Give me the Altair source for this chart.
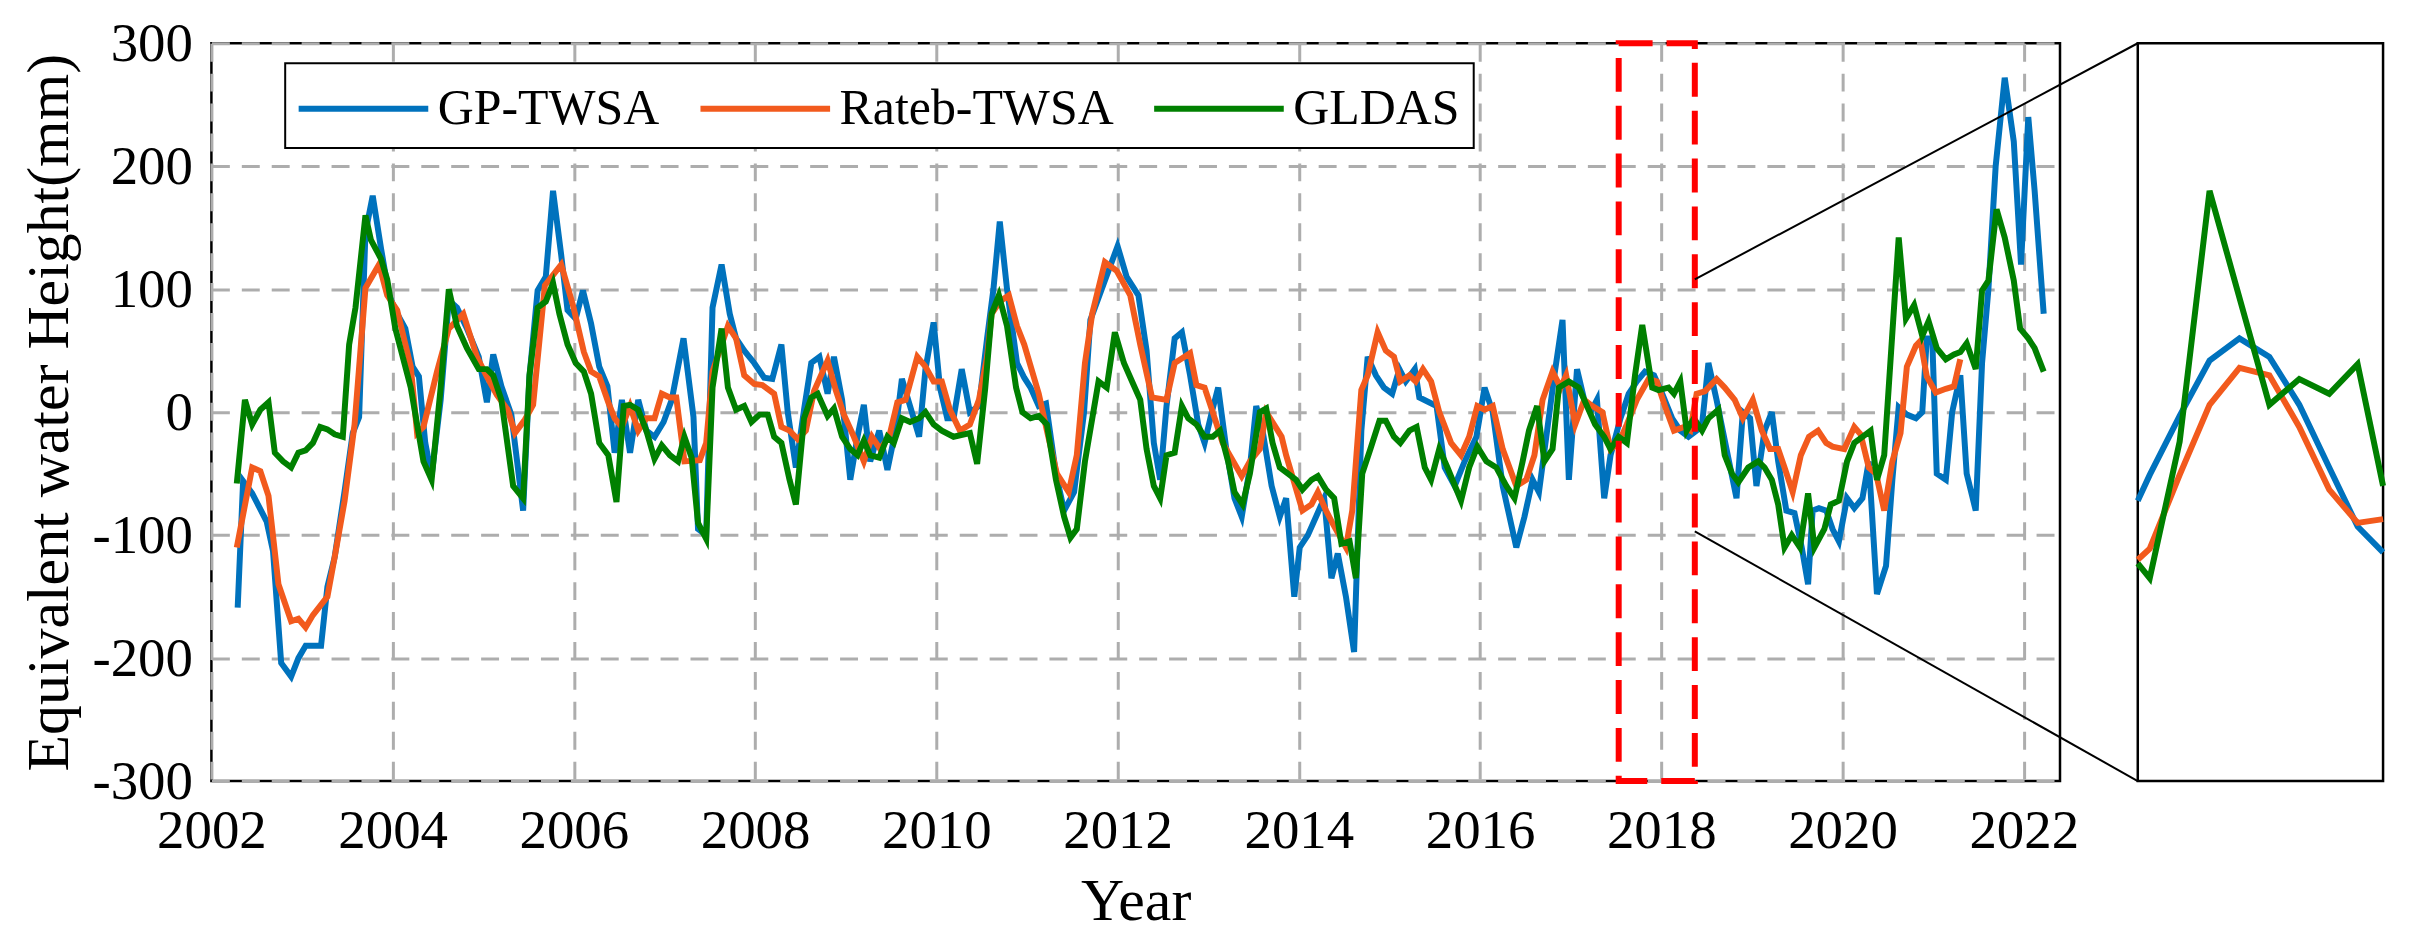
import altair as alt
import pandas as pd

SERIES = ["GP-TWSA", "Rateb-TWSA", "GLDAS"]
COLORS = ["#0072BD", "#F25A1D", "#008000"]
FONT = "Liberation Serif"

# axis limits of the main panel
X_MIN, X_MAX = 2002, 2022.4
Y_MIN, Y_MAX = -300, 300
X_TICKS = list(range(2002, 2023, 2))
Y_TICKS = list(range(-300, 301, 100))

# GP-TWSA
GP_T = [2002.29, 2002.35, 2002.45, 2002.61, 2002.68, 2002.77, 2002.88, 2002.96, 2003.04, 2003.21,
        2003.28, 2003.36, 2003.47, 2003.56, 2003.63, 2003.70, 2003.78, 2003.87, 2003.96, 2004.05,
        2004.14, 2004.22, 2004.29, 2004.36, 2004.43, 2004.53, 2004.62, 2004.71, 2004.82, 2004.95,
        2005.04, 2005.11, 2005.20, 2005.31, 2005.44, 2005.51, 2005.60, 2005.69, 2005.77, 2005.86,
        2005.93, 2006.02, 2006.10, 2006.19, 2006.28, 2006.37, 2006.45, 2006.53, 2006.62, 2006.71,
        2006.80, 2006.89, 2006.99, 2007.08, 2007.21, 2007.32, 2007.37, 2007.46, 2007.53, 2007.63,
        2007.72, 2007.79, 2007.88, 2007.99, 2008.10, 2008.19, 2008.29, 2008.36, 2008.45, 2008.54,
        2008.62, 2008.71, 2008.80, 2008.87, 2008.96, 2009.05, 2009.13, 2009.20, 2009.27, 2009.37,
        2009.46, 2009.55, 2009.62, 2009.71, 2009.81, 2009.88, 2009.97, 2010.04, 2010.12, 2010.19,
        2010.28, 2010.37, 2010.47, 2010.56, 2010.63, 2010.70, 2010.78, 2010.89, 2010.97, 2011.04,
        2011.13, 2011.21, 2011.32, 2011.41, 2011.52, 2011.63, 2011.70, 2011.85, 2012.00, 2012.10,
        2012.23, 2012.32, 2012.40, 2012.47, 2012.54, 2012.63, 2012.71, 2012.80, 2012.89, 2012.96,
        2013.04, 2013.11, 2013.20, 2013.29, 2013.37, 2013.46, 2013.53, 2013.60, 2013.70, 2013.79,
        2013.86, 2013.95, 2014.01, 2014.10, 2014.19, 2014.28, 2014.36, 2014.43, 2014.52, 2014.61,
        2014.69, 2014.76, 2014.85, 2014.94, 2015.03, 2015.11, 2015.18, 2015.28, 2015.33, 2015.52,
        2015.61, 2015.72, 2015.83, 2015.96, 2016.05, 2016.14, 2016.25, 2016.40, 2016.49, 2016.58,
        2016.65, 2016.74, 2016.82, 2016.91, 2016.98, 2017.07, 2017.15, 2017.22, 2017.29, 2017.37,
        2017.44, 2017.55, 2017.64, 2017.73, 2017.82, 2017.92, 2018.01, 2018.12, 2018.21, 2018.30,
        2018.39, 2018.45, 2018.52, 2018.61, 2018.72, 2018.83, 2018.90, 2018.98, 2019.05, 2019.14,
        2019.22, 2019.29, 2019.38, 2019.47, 2019.55, 2019.62, 2019.67, 2019.74, 2019.82, 2019.89,
        2019.96, 2020.05, 2020.13, 2020.22, 2020.29, 2020.38, 2020.48, 2020.55, 2020.62, 2020.71,
        2020.81, 2020.88, 2020.93, 2020.99, 2021.04, 2021.14, 2021.21, 2021.30, 2021.37, 2021.47,
        2021.54, 2021.61, 2021.69, 2021.79, 2021.89, 2021.97, 2022.05, 2022.12, 2022.22]
GP_V = [-159, -56, -66, -89, -113, -204, -215, -200, -190, -190,
        -142, -118, -64, -17, -4, 146, 176, 134, 95, 80,
        68, 37, 29, -25, -52, 10, 91, 85, 68, 45,
        8, 47, 21, -2, -80, 29, 99, 110, 180, 128,
        83, 76, 99, 72, 37, 21, -33, 10, -33, 10,
        -15, -20, -8, 10, 60, -4, -95, -100, 85, 120,
        80, 60, 50, 40, 28, 27, 55, 0, -45, 2,
        40, 45, 15, 45, 10, -55, -20, 6, -40, -15,
        -47, -15, 27, 5, -20, 35, 73, 20, -5, -5,
        35, 0, 5, 60, 100, 155, 100, 40, 28, 20,
        5, 7, -50, -80, -65, 0, 75, 105, 135, 110,
        95, 50, -25, -55, 5, 60, 65, 30, -10, -25,
        0, 20, -30, -70, -85, -45, 5, -15, -60, -85,
        -70, -150, -110, -100, -85, -70, -135, -115, -150, -195,
        -15, 45, 30, 20, 15, 35, 25, 35, 12, 5,
        -45, -60, -40, -20, 20, 0, -60, -110, -85, -55,
        -65, -15, 30, 75, -55, 35, 10, 0, 10, -70,
        -35, -5, 15, 25, 33, 30, 15, -5, -15, -20,
        -15, -10, 40, 10, -30, -70, 0, -5, -60, -15,
        0, -40, -80, -82, -110, -140, -80, -78, -80, -95,
        -105, -70, -78, -70, -40, -148, -125, -55, 4, -2,
        -5, 0, 60, 60, -50, -55, 0, 30, -50, -80,
        40, 100, 200, 272, 220, 120, 240, 180, 80]

# Rateb-TWSA
RATEB_T = [2002.28, 2002.45, 2002.54, 2002.63, 2002.74, 2002.88, 2002.96, 2003.04, 2003.12, 2003.28,
           2003.36, 2003.47, 2003.58, 2003.70, 2003.85, 2003.94, 2004.05, 2004.20, 2004.27, 2004.34,
           2004.49, 2004.62, 2004.78, 2004.93, 2005.04, 2005.15, 2005.27, 2005.35, 2005.46, 2005.55,
           2005.68, 2005.86, 2005.99, 2006.11, 2006.19, 2006.28, 2006.38, 2006.45, 2006.53, 2006.62,
           2006.71, 2006.80, 2006.89, 2006.97, 2007.06, 2007.13, 2007.22, 2007.39, 2007.46, 2007.53,
           2007.70, 2007.79, 2007.88, 2007.99, 2008.08, 2008.21, 2008.29, 2008.38, 2008.47, 2008.56,
           2008.65, 2008.80, 2008.89, 2008.98, 2009.09, 2009.20, 2009.29, 2009.38, 2009.48, 2009.57,
           2009.66, 2009.79, 2009.88, 2009.97, 2010.06, 2010.15, 2010.26, 2010.37, 2010.47, 2010.56,
           2010.61, 2010.70, 2010.80, 2010.89, 2010.97, 2011.13, 2011.22, 2011.33, 2011.46, 2011.55,
           2011.64, 2011.72, 2011.86, 2011.99, 2012.14, 2012.25, 2012.38, 2012.54, 2012.63, 2012.80,
           2012.87, 2012.96, 2013.05, 2013.16, 2013.37, 2013.46, 2013.57, 2013.64, 2013.81, 2013.86,
           2014.04, 2014.14, 2014.21, 2014.30, 2014.37, 2014.52, 2014.59, 2014.69, 2014.76, 2014.87,
           2014.96, 2015.05, 2015.12, 2015.22, 2015.29, 2015.37, 2015.46, 2015.55, 2015.68, 2015.79,
           2015.88, 2015.97, 2016.05, 2016.14, 2016.25, 2016.40, 2016.51, 2016.60, 2016.69, 2016.80,
           2016.89, 2016.95, 2017.05, 2017.15, 2017.24, 2017.35, 2017.44, 2017.53, 2017.62, 2017.73,
           2017.86, 2017.95, 2018.04, 2018.14, 2018.25, 2018.32, 2018.39, 2018.48, 2018.61, 2018.70,
           2018.81, 2018.90, 2019.01, 2019.11, 2019.20, 2019.29, 2019.36, 2019.45, 2019.54, 2019.63,
           2019.73, 2019.82, 2019.89, 2020.02, 2020.13, 2020.20, 2020.29, 2020.37, 2020.46, 2020.55,
           2020.64, 2020.71, 2020.81, 2020.86, 2020.93, 2021.03, 2021.14, 2021.23, 2021.30]
RATEB_V = [-110, -45, -48, -68, -140, -170, -168, -175, -165, -150,
           -118, -72, -10, 101, 120, 95, 83, 37, -17, -12,
           33, 68, 80, 45, 29, 14, 2, -17, -6, 6,
           103, 120, 87, 49, 33, 29, 8, -5, -12, 5,
           -15, -5, -5, 15, 12, 12, -40, -39, -25, 33,
           70, 60, 30, 23, 22, 15, -12, -15, -22, -15,
           17, 42, 18, -2, -20, -40, -20, -30, -20, 8,
           10, 45, 37, 25, 25, 2, -15, -10, 10, 45,
           80, 90, 95, 70, 55, 15, -15, -50, -65, -35,
           40, 80, 122, 115, 95, 55, 12, 10, 40, 48,
           22, 20, 0, -25, -52, -40, -30, 0, -20, -35,
           -80, -75, -65, -80, -90, -110, -80, 18, 30, 65,
           50, 45, 25, 30, 25, 35, 25, 0, -25, -35,
           -20, 5, 2, 5, -30, -60, -55, -35, 10, 33,
           20, 30, -10, 10, 5, 0, -30, -25, -10, 10,
           27, 25, 5, -15, -12, -15, 15, 17, 27, 20,
           10, -5, 10, -15, -30, -30, -45, -65, -35, -20,
           -15, -25, -28, -30, -12, -18, -45, -50, -80, -40,
           -17, 37, 54, 58, 29, 16, 19, 21, 43]

# GLDAS
GLDAS_T = [2002.28, 2002.37, 2002.45, 2002.54, 2002.63, 2002.70, 2002.79, 2002.88, 2002.96, 2003.04,
           2003.12, 2003.20, 2003.28, 2003.36, 2003.45, 2003.52, 2003.59, 2003.70, 2003.76, 2003.87,
           2003.94, 2004.03, 2004.20, 2004.34, 2004.43, 2004.53, 2004.62, 2004.71, 2004.82, 2004.95,
           2005.04, 2005.11, 2005.20, 2005.33, 2005.44, 2005.51, 2005.60, 2005.69, 2005.77, 2005.84,
           2005.93, 2006.02, 2006.11, 2006.19, 2006.28, 2006.38, 2006.47, 2006.55, 2006.62, 2006.71,
           2006.80, 2006.89, 2006.97, 2007.06, 2007.15, 2007.22, 2007.30, 2007.37, 2007.46, 2007.53,
           2007.63, 2007.70, 2007.79, 2007.88, 2007.96, 2008.05, 2008.14, 2008.21, 2008.29, 2008.38,
           2008.45, 2008.54, 2008.62, 2008.69, 2008.80, 2008.87, 2008.96, 2009.05, 2009.13, 2009.20,
           2009.27, 2009.37, 2009.46, 2009.53, 2009.62, 2009.71, 2009.81, 2009.88, 2009.97, 2010.06,
           2010.19, 2010.37, 2010.45, 2010.54, 2010.61, 2010.69, 2010.78, 2010.88, 2010.95, 2011.04,
           2011.13, 2011.22, 2011.32, 2011.41, 2011.48, 2011.55, 2011.64, 2011.79, 2011.88, 2011.97,
           2012.07, 2012.16, 2012.25, 2012.32, 2012.40, 2012.47, 2012.54, 2012.63, 2012.71, 2012.78,
           2012.87, 2012.96, 2013.05, 2013.13, 2013.22, 2013.29, 2013.38, 2013.46, 2013.57, 2013.64,
           2013.71, 2013.79, 2013.88, 2013.97, 2014.04, 2014.14, 2014.21, 2014.30, 2014.39, 2014.47,
           2014.56, 2014.63, 2014.70, 2014.79, 2014.89, 2014.96, 2015.05, 2015.12, 2015.22, 2015.30,
           2015.39, 2015.46, 2015.55, 2015.64, 2015.79, 2015.88, 2015.97, 2016.07, 2016.18, 2016.29,
           2016.38, 2016.47, 2016.54, 2016.63, 2016.71, 2016.80, 2016.87, 2016.98, 2017.09, 2017.18,
           2017.27, 2017.37, 2017.44, 2017.53, 2017.62, 2017.71, 2017.79, 2017.90, 2017.97, 2018.08,
           2018.14, 2018.21, 2018.28, 2018.36, 2018.45, 2018.52, 2018.63, 2018.70, 2018.78, 2018.85,
           2018.96, 2019.07, 2019.14, 2019.22, 2019.29, 2019.36, 2019.44, 2019.53, 2019.62, 2019.69,
           2019.80, 2019.87, 2019.96, 2020.05, 2020.13, 2020.22, 2020.31, 2020.38, 2020.46, 2020.62,
           2020.70, 2020.79, 2020.88, 2020.95, 2021.04, 2021.14, 2021.23, 2021.30, 2021.37, 2021.47,
           2021.54, 2021.61, 2021.70, 2021.79, 2021.89, 2021.96, 2022.05, 2022.12, 2022.22]
GLDAS_V = [-58, 10, -10, 2, 8, -33, -40, -45, -33, -31,
           -25, -12, -14, -18, -20, 55, 85, 160, 140, 125,
           108, 68, 20, -40, -55, 20, 100, 70, 52, 35,
           35, 30, 10, -60, -70, 30, 85, 90, 105, 80,
           55, 40, 33, 15, -25, -35, -73, 5, 6, 2,
           -15, -38, -27, -35, -40, -20, -37, -90, -103, 20,
           68, 20, 2, 5, -8, -2, -2, -20, -25, -55,
           -75, -5, 12, 15, -3, 3, -20, -30, -35, -23,
           -35, -37, -20, -25, -5, -8, -5, 0, -10, -15,
           -20, -17, -42, 20, 80, 95, 70, 20, 0, -5,
           -3, -10, -55, -85, -102, -95, -40, 25, 20, 65,
           40, 25, 10, -30, -60, -70, -35, -33, 5, -5,
           -10, -20, -20, -15, -40, -65, -75, -50, 0, 3,
           -25, -45, -50, -55, -63, -55, -52, -63, -70, -107,
           -105, -135, -50, -30, -7, -7, -20, -25, -15, -12,
           -45, -55, -30, -45, -72, -45, -28, -40, -45, -60,
           -70, -40, -15, 5, -40, -30, 20, 25, 20, 5,
           -10, -20, -30, -20, -25, 30, 71, 20, 18, 20,
           15, 25, -15, -5, -15, -5, 2, -35, -50, -57,
           -45, -40, -45, -55, -75, -110, -100, -110, -66, -110,
           -95, -75, -72, -40, -25, -20, -15, -55, -35, 142,
           76, 87, 62, 74, 52, 43, 47, 49, 56, 35,
           99, 107, 165, 142, 107, 68, 60, 52, 33]

# highlighted window and the ends of the two connector lines (main-panel units)
ZOOM_START, ZOOM_END = 2017.53, 2018.37
CONNECT_TOP, CONNECT_BOTTOM = 108, -97

# inset panel: months into the window, own vertical range
INSET_X = [0, 8.2]
INSET_Y = [-80, 120]
INSET_GP_T = [0, 0.4, 1.4, 2.4, 3.4, 4.4, 5.4, 6.4, 7.35, 8.2]
INSET_GP_V = [-4, 3, 19, 34, 40, 35, 22, 5, -11, -18]
INSET_RATEB_T = [0, 0.4, 1.4, 2.4, 3.4, 4.4, 5.4, 6.4, 7.35, 8.2]
INSET_RATEB_V = [-20, -17, 3, 22, 32, 30, 16, -1, -10, -9]
INSET_GLDAS_T = [0, 0.4, 1.4, 2.4, 4.4, 5.4, 6.4, 7.35, 8.2]
INSET_GLDAS_V = [-21, -25, 12, 80, 22, 29, 25, 33, 0]

MAIN_W, INSET_W, H, GAP = 1854, 246, 740, 78


def long_frame(parts):
    rows = []
    for name, ts, vs in parts:
        rows += [{"series": name, "t": t, "v": v} for t, v in zip(ts, vs)]
    return pd.DataFrame(rows)


main_df = long_frame([(SERIES[0], GP_T, GP_V), (SERIES[1], RATEB_T, RATEB_V),
                      (SERIES[2], GLDAS_T, GLDAS_V)])
inset_df = long_frame([(SERIES[0], INSET_GP_T, INSET_GP_V),
                       (SERIES[1], INSET_RATEB_T, INSET_RATEB_V),
                       (SERIES[2], INSET_GLDAS_T, INSET_GLDAS_V)])

# inset's left edge, expressed on the main x scale
inset_edge = X_MAX + GAP * (X_MAX - X_MIN) / MAIN_W
box_df = pd.DataFrame([{"t": ZOOM_START, "t2": ZOOM_END, "v": Y_MAX, "v2": Y_MIN}])
link_df = pd.DataFrame([
    {"t": ZOOM_END, "v": CONNECT_TOP, "t2": inset_edge, "v2": Y_MAX},
    {"t": ZOOM_END, "v": CONNECT_BOTTOM, "t2": inset_edge, "v2": Y_MIN},
])

x_main = alt.Scale(domain=[X_MIN, X_MAX], nice=False, zero=False)
y_main = alt.Scale(domain=[Y_MIN, Y_MAX], nice=False)
# plain hyphen for negative labels, as in the original figure
plain_label = "'' + datum.value"
x_axis = alt.Axis(title="Year", values=X_TICKS, labelExpr=plain_label, labelFlush=False,
                  labelBaseline="alphabetic", labelPadding=67,
                  titleY=139, titleBaseline="alphabetic")
y_axis = alt.Axis(title="Equivalent water Height(mm)", values=Y_TICKS, labelExpr=plain_label,
                  labelFlush=False, labelPadding=19, labelBaseline="middle",
                  titleX=-144, titleBaseline="alphabetic")
x_enc = alt.X("t:Q", scale=x_main, axis=x_axis)
y_enc = alt.Y("v:Q", scale=y_main, axis=y_axis)
color_scale = alt.Scale(domain=SERIES, range=COLORS)

lines = alt.Chart(main_df).mark_line(strokeWidth=6).encode(
    x=x_enc,
    y=y_enc,
    color=alt.Color("series:N", scale=color_scale, legend=alt.Legend(
        title=None, orient="none", legendX=74, legendY=20, direction="horizontal",
        columns=3, columnPadding=28, padding=14, strokeColor="black", fillColor="white",
        symbolType="M-2.2807,0H2.2807", symbolSize=3249, symbolStrokeWidth=6,
        symbolOffset=33, labelOffset=43, labelFontSize=50, labelFont=FONT,
        labelColor="black", labelLimit=0)),
)

box = alt.Chart(box_df).mark_rect(filled=False, stroke="#FF0000", strokeWidth=6,
                                  strokeDash=[34, 14]).encode(
    x=x_enc, x2="t2:Q", y=y_enc, y2="v2:Q")

links = alt.Chart(link_df).mark_rule(color="black", strokeWidth=2).encode(
    x=x_enc, x2="t2:Q", y=y_enc, y2="v2:Q")

main = alt.layer(lines, box, links).properties(width=MAIN_W, height=H)

inset = alt.Chart(inset_df).mark_line(strokeWidth=6).encode(
    x=alt.X("t:Q", scale=alt.Scale(domain=INSET_X, nice=False, zero=False), axis=None),
    y=alt.Y("v:Q", scale=alt.Scale(domain=INSET_Y, nice=False, zero=False), axis=None),
    color=alt.Color("series:N", scale=color_scale, legend=None),
).properties(width=INSET_W, height=H)

chart = (
    alt.hconcat(main, inset, spacing=GAP, bounds="flush")
    .resolve_scale(color="independent")
    .properties(padding={"left": 10, "top": 5, "right": 5, "bottom": 0})
    .configure(font=FONT)
    .configure_view(stroke="black", strokeWidth=2.5)
    .configure_axis(
        grid=True, gridColor="#ADADAD", gridWidth=3, gridDash=[18, 12], gridOpacity=1,
        domain=False, ticks=False,
        labelFont=FONT, labelFontSize=55, labelColor="black",
        titleFont=FONT, titleFontSize=60, titleFontWeight="normal", titleColor="black",
    )
    .configure_legend(strokeWidth=2)
)

chart.save("out.html", embed_options={"renderer": "svg", "actions": False})
